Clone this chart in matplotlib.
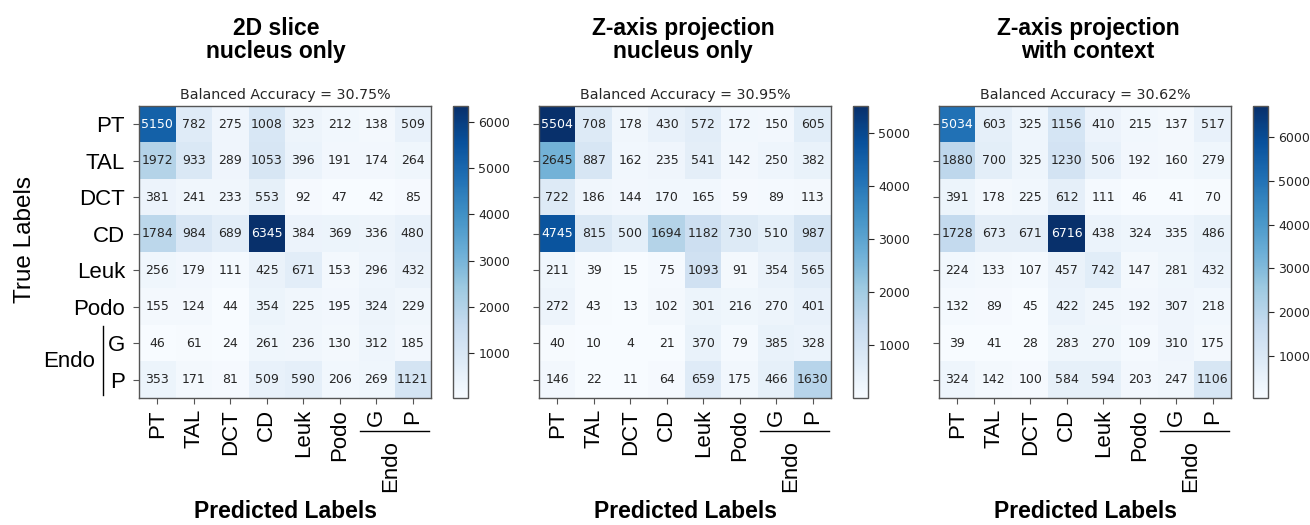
import numpy as np
import matplotlib
matplotlib.use("Agg")
import matplotlib.pyplot as plt
from matplotlib.lines import Line2D
from matplotlib.transforms import blended_transform_factory

# ---- data -----------------------------------------------------------------
class_labels = ["PT", "TAL", "DCT", "CD", "Leuk", "Podo", "G", "P"]
panel_titles = ["2D slice\nnucleus only",
                "Z-axis projection\nnucleus only",
                "Z-axis projection\nwith context"]
balanced_accuracy = [30.75, 30.95, 30.62]

cm_slice_nucleus = [
    [5150, 782, 275, 1008, 323, 212, 138, 509],
    [1972, 933, 289, 1053, 396, 191, 174, 264],
    [381, 241, 233, 553, 92, 47, 42, 85],
    [1784, 984, 689, 6345, 384, 369, 336, 480],
    [256, 179, 111, 425, 671, 153, 296, 432],
    [155, 124, 44, 354, 225, 195, 324, 229],
    [46, 61, 24, 261, 236, 130, 312, 185],
    [353, 171, 81, 509, 590, 206, 269, 1121],
]
cm_proj_nucleus = [
    [5504, 708, 178, 430, 572, 172, 150, 605],
    [2645, 887, 162, 235, 541, 142, 250, 382],
    [722, 186, 144, 170, 165, 59, 89, 113],
    [4745, 815, 500, 1694, 1182, 730, 510, 987],
    [211, 39, 15, 75, 1093, 91, 354, 565],
    [272, 43, 13, 102, 301, 216, 270, 401],
    [40, 10, 4, 21, 370, 79, 385, 328],
    [146, 22, 11, 64, 659, 175, 466, 1630],
]
cm_proj_context = [
    [5034, 603, 325, 1156, 410, 215, 137, 517],
    [1880, 700, 325, 1230, 506, 192, 160, 279],
    [391, 178, 225, 612, 111, 46, 41, 70],
    [1728, 673, 671, 6716, 438, 324, 335, 486],
    [224, 133, 107, 457, 742, 147, 281, 432],
    [132, 89, 45, 422, 245, 192, 307, 218],
    [39, 41, 28, 283, 270, 109, 310, 175],
    [324, 142, 100, 584, 594, 203, 247, 1106],
]
matrices = [cm_slice_nucleus, cm_proj_nucleus, cm_proj_context]

# ---- layout (pixels) -------------------------------------------------------
W, H = 1310, 525
HM_LEFT, HM_TOP, HM_SIZE = 139, 106, 292
CB_LEFT, CB_WIDTH = 453, 15
PANEL_STEP = 400
TITLE_X = [276, 683, 1088]

LABEL_FONT = ["Liberation Sans", "DejaVu Sans"]
TEXT_COLOR = "#262626"
EDGE_COLOR = "#555555"
TICK_FS = 16

fig = plt.figure(figsize=(W / 100, H / 100), dpi=100)


def px_axes(left, top, width, height):
    return fig.add_axes([left / W, 1 - (top + height) / H, width / W, height / H])


for i, (cm, title, acc) in enumerate(zip(matrices, panel_titles, balanced_accuracy)):
    data = np.array(cm)
    off = PANEL_STEP * i
    ax = px_axes(HM_LEFT + off, HM_TOP, HM_SIZE, HM_SIZE)
    cax = px_axes(CB_LEFT + off, HM_TOP, CB_WIDTH, HM_SIZE)

    im = ax.imshow(data, cmap="Blues", interpolation="nearest", aspect="auto")
    thresh = (data.max() + data.min()) / 2.0
    for r in range(data.shape[0]):
        for c in range(data.shape[1]):
            v = data[r, c]
            ax.text(c, r, f"{v}", ha="center", va="center", fontsize=9,
                    color="white" if v > thresh else TEXT_COLOR)

    ax.set_title(f"Balanced Accuracy = {acc:.2f}%", fontsize=10.3,
                 color=TEXT_COLOR, pad=5)

    n = len(class_labels)
    ax.set_xticks(range(n))
    ax.set_xticklabels(class_labels, rotation=90, fontsize=TICK_FS,
                       family=LABEL_FONT, color="black")
    ax.set_yticks(range(n))
    if i == 0:
        ax.set_yticklabels(class_labels, fontsize=TICK_FS, family=LABEL_FONT,
                           color="black")
    else:
        ax.set_yticklabels([])
    ax.tick_params(length=4, width=0.8, color=EDGE_COLOR)
    ax.tick_params(axis="y", pad=6)
    ax.tick_params(axis="x", pad=4)
    for sp in ax.spines.values():
        sp.set_edgecolor(EDGE_COLOR)
        sp.set_linewidth(1.0)

    # bracket grouping G and P under "Endo" on the x axis
    tx = blended_transform_factory(ax.transData, ax.transAxes)
    ax.add_line(Line2D([5.55, 7.45], [-0.113, -0.113], transform=tx,
                       color="black", lw=1.0, clip_on=False))
    ax.text(6.4, -0.145, "Endo", transform=tx, rotation=90, ha="center",
            va="top", fontsize=TICK_FS, family=LABEL_FONT)

    # bracket grouping G and P beside "Endo" on the y axis
    if i == 0:
        ty = blended_transform_factory(ax.transAxes, ax.transData)
        ax.add_line(Line2D([-0.123, -0.123], [5.52, 7.43], transform=ty,
                           color="black", lw=1.0, clip_on=False))
        ax.text(-0.15, 6.5, "Endo", transform=ty, ha="right", va="center",
                fontsize=TICK_FS, family=LABEL_FONT)

    cb = fig.colorbar(im, cax=cax)
    cb.set_ticks(np.arange(1000, data.max() + 1, 1000))
    cb.ax.tick_params(labelsize=9, colors=TEXT_COLOR, length=4, width=0.8)
    cb.outline.set_edgecolor(EDGE_COLOR)
    cb.outline.set_linewidth(1.0)

    fig.text(TITLE_X[i] / W, 1 - 40 / H, title, ha="center", va="center",
             fontsize=16.5, fontweight="bold", family=LABEL_FONT,
             linespacing=1.05)
    fig.text((HM_LEFT + off + HM_SIZE / 2) / W, 1 - 512 / H, "Predicted Labels",
             ha="center", va="center", fontsize=16.5, fontweight="bold",
             family=LABEL_FONT)

fig.text(25 / W, 1 - 240 / H, "True Labels", rotation=90, ha="center",
         va="center", fontsize=17.5, family=LABEL_FONT)

fig.savefig("out.png", dpi=100)
